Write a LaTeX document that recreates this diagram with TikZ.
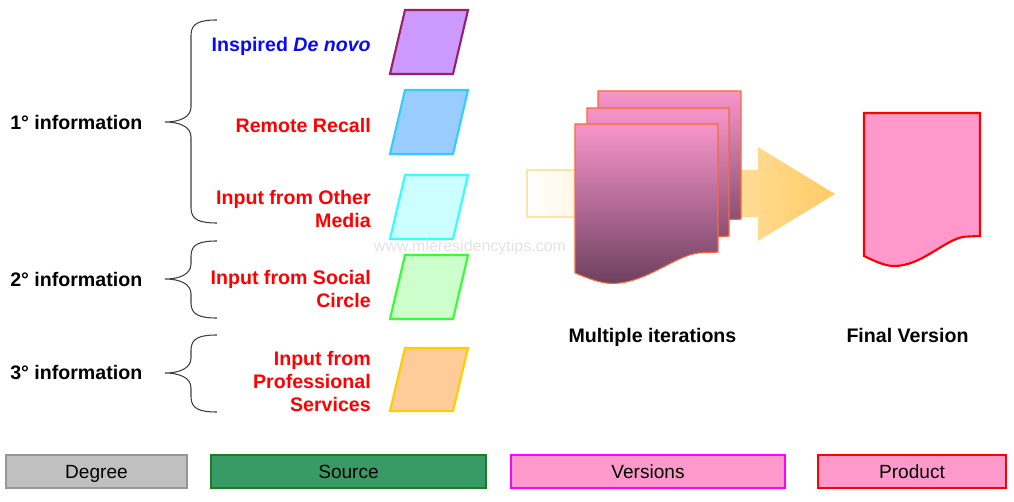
\documentclass[tikz,border=0pt]{standalone}
\usepackage{fontspec}
\setmainfont{Liberation Sans}
\definecolor{labred}{HTML}{FF0000}
\definecolor{labblue}{HTML}{0A0AF5}
\definecolor{docTop}{HTML}{F895CB}
\definecolor{docMid}{HTML}{C87AA0}
\definecolor{docBot}{HTML}{6E405F}
\definecolor{docEdge}{HTML}{FF6633}
\definecolor{arrowR}{HTML}{FFCC66}
\definecolor{arrowEdge}{HTML}{FFE2A8}
\definecolor{pinkfill}{HTML}{FF99CC}
\tikzset{
  lab/.style={font=\bfseries\fontsize{14.7}{17.25}\selectfont, inner sep=0pt, align=right, anchor=east},
  deglab/.style={font=\bfseries\fontsize{14.7}{17.25}\selectfont, inner sep=0pt, anchor=west},
  captionlab/.style={font=\bfseries\fontsize{14.7}{17.25}\selectfont, inner sep=0pt},
  bracestyle/.style={draw=black!75, line width=0.8pt},
  para/.style={line width=1.6pt, line join=miter},
  legbox/.style={font=\fontsize{14.3}{17}\selectfont, line width=1.6pt, minimum height=24.75pt, inner sep=0pt, text height=10.3pt, text depth=0pt},
  docfront/.style={top color=docTop, middle color=docMid, bottom color=docBot, draw=docEdge, line width=0.8pt}
}
\newcommand\mybrace[3]{%
  \draw[bracestyle] (217,#1) .. controls (200,#1) and (191,#1+3) .. (191,#1+15) -- (191,#2-15)
    .. controls (191,#2-5) and (180,#2) .. (165,#2)
    .. controls (180,#2) and (191,#2+5) .. (191,#2+15) -- (191,#3-15)
    .. controls (191,#3-3) and (200,#3) .. (217,#3);}
\newcommand\mypara[3]{% y0, y1, style
  \path[para,#3] (405,#1) -- (468,#1) -- (453,#2) -- (390,#2) -- cycle;}
\newcommand\mydoc[5]{% style, x0, y0, w, h
  \path[#1] (#2,#3) -- (#2+#4,#3) -- (#2+#4,#3+0.86*#5) -- (#2+0.87*#4,#3+0.865*#5)
    .. controls (#2+0.7*#4,#3+0.88*#5) and (#2+0.5*#4,#3+1.07*#5) .. (#2+0.26*#4,#3+1.07*#5)
    .. controls (#2+0.17*#4,#3+1.07*#5) and (#2+0.08*#4,#3+1.03*#5) .. (#2,#3+#5) -- cycle;}
\begin{document}
\begin{tikzpicture}[x=0.75pt, y=-0.75pt]
\useasboundingbox (0,0) rectangle (1014,502);
% braces
\mybrace{20}{122}{223}
\mybrace{241}{279}{318}
\mybrace{335}{373}{412}
% degree labels
\node[deglab] (d1) at (10,122) {1° information};
\node[deglab] (d2) at (10,279) {2° information};
\node[deglab] (d3) at (10,373) {3° information};
% source labels
\node[lab, text=labblue] (s1) at (371,46) {Inspired \textit{De novo}};
\node[lab, text=labred] (s2) at (371,125) {Remote Recall};
\node[lab, text=labred] (s3) at (371,209) {Input from Other\\Media};
\node[lab, text=labred] (s4) at (371,289) {Input from Social\\Circle};
\node[lab, text=labred] (s5) at (371,381) {Input from\\Professional\\Services};
% parallelograms
\mypara{10}{74}{fill={rgb,255:red,204;green,153;blue,255}, draw={rgb,255:red,153;green,34;blue,102}}
\mypara{90}{154}{fill={rgb,255:red,153;green,204;blue,255}, draw={rgb,255:red,51;green,204;blue,255}}
\mypara{175}{239}{fill={rgb,255:red,204;green,255;blue,255}, draw={rgb,255:red,51;green,255;blue,255}}
\mypara{255}{319}{fill={rgb,255:red,204;green,255;blue,204}, draw={rgb,255:red,51;green,255;blue,51}}
\mypara{348}{411}{fill={rgb,255:red,255;green,204;blue,153}, draw={rgb,255:red,255;green,204;blue,0}}
% watermark
\node[font=\fontsize{12}{14}\selectfont, text=black!11, inner sep=0pt] (wm) at (470,247) {www.mleresidencytips.com};
% block arrow
\path[left color=white, right color=arrowR] (527,170) -- (758,170) -- (758,147) -- (835,194) -- (758,241) -- (758,217) -- (527,217) -- cycle;
\draw[arrowEdge, line width=0.8pt] (600,170) -- (527,170) -- (527,217) -- (600,217);
% iteration documents
\mydoc{docfront}{598}{91}{143}{149}
\mydoc{docfront}{587}{108}{142}{149}
\mydoc{docfront}{575}{124}{143}{149}
% final document
\mydoc{fill=pinkfill, draw=red, line width=1.6pt}{864}{113}{116}{143}
% captions
\node[captionlab] (c1) at (652.5,337) {Multiple iterations};
\node[captionlab] (c2) at (907.5,335) {Final Version};
% legend
\node[legbox, fill={rgb,255:red,192;green,192;blue,192}, draw={rgb,255:red,150;green,150;blue,150}, minimum width=135.75pt] (lg1) at (96.5,471.5) {Degree};
\node[legbox, fill={rgb,255:red,56;green,155;blue,102}, draw={rgb,255:red,30;green,125;blue,30}, minimum width=206.25pt] (lg2) at (348.5,471.5) {Source};
\node[legbox, fill=pinkfill, draw={rgb,255:red,255;green,0;blue,255}, minimum width=205.5pt] (lg3) at (648,471.5) {Versions};
\node[legbox, fill=pinkfill, draw=red, minimum width=141pt] (lg4) at (912,471.5) {Product};
\end{tikzpicture}
\end{document}
